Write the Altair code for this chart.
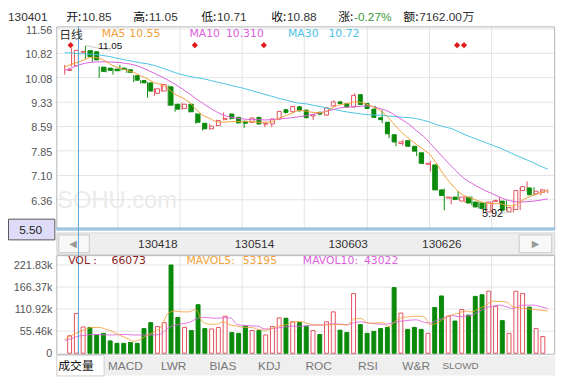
import altair as alt
import pandas as pd

# ---------------- data ----------------
opens = [10.30, 10.44, 10.85, 10.90, 10.87, 10.40, 10.37, 10.34, 10.37, 10.32,
         10.14, 9.99, 9.92, 9.60, 9.67, 9.80, 9.27, 9.14, 9.27, 8.97,
         8.69, 8.52, 8.62, 8.80, 8.97, 8.87, 8.75, 8.72, 8.87, 8.66,
         8.67, 8.82, 9.10, 9.04, 9.19, 9.09, 8.91, 9.02, 8.94, 9.22,
         9.34, 9.29, 9.19, 9.56, 9.29, 9.12, 8.86, 8.72, 8.34, 8.07,
         8.16, 7.99, 7.79, 7.44, 7.42, 6.66, 6.41, 6.44, 6.32, 6.44,
         6.29, 6.26, 5.99, 6.31, 6.32, 5.99, 6.06, 6.64, 6.72, 6.54,
         6.59]
highs = [10.47, 10.98, 11.05, 11.05, 10.92, 10.42, 10.40, 10.37, 10.47, 10.37,
         10.16, 10.00, 9.94, 9.76, 9.90, 9.84, 9.28, 9.32, 9.28, 9.00,
         8.70, 8.67, 8.80, 9.02, 8.99, 8.88, 8.77, 8.87, 8.88, 8.70,
         8.84, 9.06, 9.13, 9.22, 9.22, 9.10, 8.96, 9.05, 9.18, 9.39,
         9.36, 9.30, 9.60, 9.58, 9.31, 9.22, 9.09, 8.74, 8.36, 8.19,
         8.17, 8.00, 7.80, 7.54, 7.44, 6.70, 6.46, 6.62, 6.49, 6.46,
         6.31, 6.28, 6.32, 6.44, 6.34, 6.14, 6.74, 6.92, 6.74, 6.69,
         6.68]
lows = [10.17, 10.42, 10.71, 10.65, 10.56, 10.07, 10.24, 10.17, 10.27, 10.22,
        9.94, 9.90, 9.47, 9.52, 9.65, 9.22, 9.04, 9.10, 9.02, 8.67,
        8.47, 8.50, 8.60, 8.78, 8.80, 8.68, 8.55, 8.70, 8.65, 8.57,
        8.57, 8.80, 8.98, 9.02, 9.05, 8.84, 8.79, 8.94, 8.92, 9.20,
        9.27, 9.17, 9.17, 9.24, 9.12, 8.85, 8.69, 8.24, 7.99, 8.01,
        7.97, 7.69, 7.45, 7.22, 6.64, 6.04, 6.22, 6.35, 6.26, 6.19,
        6.09, 6.00, 5.92, 6.24, 6.02, 5.97, 6.04, 6.62, 6.49, 6.49,
        6.56]
closes = [10.33, 10.91, 10.88, 10.72, 10.62, 10.27, 10.30, 10.29, 10.33, 10.24,
          10.00, 9.92, 9.67, 9.74, 9.87, 9.24, 9.12, 9.27, 9.04, 8.72,
          8.52, 8.60, 8.77, 8.84, 8.84, 8.70, 8.69, 8.85, 8.67, 8.69,
          8.82, 9.05, 9.02, 9.20, 9.07, 8.86, 8.95, 8.97, 9.16, 9.34,
          9.29, 9.19, 9.54, 9.26, 9.14, 8.87, 8.80, 8.37, 8.12, 8.12,
          7.99, 7.84, 7.47, 7.47, 6.66, 6.49, 6.44, 6.37, 6.44, 6.26,
          6.14, 6.09, 6.29, 6.34, 6.04, 6.12, 6.64, 6.76, 6.51, 6.62,
          6.66]
ma5 = [10.40, 10.49, 10.55, 10.64, 10.70, 10.67, 10.57, 10.44, 10.37, 10.30,
       10.24, 10.14, 10.04, 9.92, 9.87, 9.74, 9.57, 9.47, 9.34, 9.12,
       8.94, 8.84, 8.74, 8.72, 8.74, 8.74, 8.74, 8.74, 8.72, 8.72,
       8.74, 8.84, 8.92, 9.00, 9.08, 9.06, 9.02, 9.01, 9.06, 9.18,
       9.26, 9.29, 9.34, 9.32, 9.25, 9.16, 9.04, 8.84, 8.59, 8.38,
       8.20, 8.04, 7.89, 7.72, 7.42, 7.10, 6.84, 6.62, 6.47, 6.40,
       6.32, 6.26, 6.24, 6.24, 6.19, 6.17, 6.30, 6.42, 6.50, 6.58,
       6.64]
ma10 = [10.30, 10.38, 10.46, 10.52, 10.55, 10.56, 10.56, 10.55, 10.54, 10.51,
        10.47, 10.40, 10.31, 10.21, 10.11, 10.00, 9.88, 9.74, 9.60, 9.44,
        9.30, 9.16, 9.04, 8.94, 8.88, 8.84, 8.82, 8.80, 8.80, 8.79,
        8.80, 8.82, 8.84, 8.86, 8.89, 8.92, 8.96, 9.01, 9.06, 9.11,
        9.16, 9.18, 9.19, 9.21, 9.22, 9.18, 9.12, 9.04, 8.92, 8.78,
        8.64, 8.46, 8.29, 8.07, 7.84, 7.61, 7.39, 7.18, 6.99, 6.86,
        6.74, 6.63, 6.54, 6.44, 6.36, 6.31, 6.29, 6.30, 6.32, 6.35,
        6.39]
ma30 = [10.84, 10.83, 10.81, 10.80, 10.79, 10.77, 10.74, 10.70, 10.65, 10.61,
        10.57, 10.53, 10.50, 10.45, 10.38, 10.31, 10.23, 10.17, 10.12, 10.08,
        10.05, 10.00, 9.95, 9.90, 9.85, 9.80, 9.75, 9.69, 9.63, 9.57,
        9.51, 9.45, 9.40, 9.34, 9.30, 9.28, 9.24, 9.20, 9.15, 9.11,
        9.07, 9.03, 9.00, 8.97, 8.95, 8.94, 8.93, 8.91, 8.89, 8.87,
        8.86, 8.83, 8.78, 8.72, 8.64, 8.58, 8.53, 8.44, 8.34, 8.26,
        8.18, 8.10, 8.02, 7.94, 7.85, 7.75, 7.66, 7.57, 7.48, 7.38,
        7.29]
volumes = [44000, 100000, 66073, 65000, 46000, 50000, 31000, 25000, 25000, 27000,
           25000, 62000, 77000, 67000, 77000, 221830, 90000, 65000, 57000, 122000,
           62000, 61000, 65000, 93000, 52000, 50000, 68000, 57000, 57000, 46000,
           67000, 89000, 88000, 79000, 77000, 68000, 57000, 47000, 79000, 104000,
           58000, 52000, 150000, 72000, 50000, 55000, 62000, 65000, 165000, 101000,
           60000, 65000, 60000, 50000, 115000, 144000, 93000, 81000, 110000, 96000,
           143000, 147000, 156000, 118000, 82000, 50000, 156000, 150000, 116000, 62000,
           42000]
mavol5 = [35000, 45000, 53195, 60000, 65000, 65000, 60000, 54000, 45000, 38000,
          30000, 35000, 46000, 54000, 67000, 101000, 106000, 104000, 104000, 110000,
          79000, 73000, 73000, 79000, 71000, 68000, 65000, 65000, 60000, 58000,
          62000, 68000, 71000, 78000, 80000, 76000, 72000, 71000, 71000, 72000,
          72000, 71000, 87000, 87000, 75000, 76000, 77000, 67000, 82000, 90000,
          92000, 93000, 92000, 72000, 76000, 88000, 96000, 100000, 106000, 104000,
          112000, 120000, 131000, 130000, 129000, 116000, 114000, 112000, 110000, 108000,
          106000]
mavol10 = [32000, 37000, 43022, 45000, 47000, 47000, 46000, 46000, 47000, 47000,
           46000, 46000, 46000, 46000, 49000, 64000, 70000, 74000, 77000, 86000,
           90000, 89000, 88000, 89000, 89000, 72000, 70000, 69000, 68000, 61000,
           62000, 64000, 66000, 68000, 68000, 69000, 71000, 71000, 73000, 74000,
           73000, 72000, 77000, 79000, 76000, 74000, 73000, 74000, 79000, 81000,
           83000, 84000, 78000, 76000, 83000, 89000, 95000, 92000, 93000, 96000,
           104000, 114000, 118000, 121000, 117000, 112000, 120000, 121000, 121000, 117000,
           112000]

price_ticks = [11.56, 10.82, 10.08, 9.33, 8.59, 7.85, 7.10, 6.36]
price_tick_text = ["11.56", "10.82", "10.08", "9.33", "8.59", "7.85", "7.10", "6.36"]
vol_ticks = [0, 55460, 110920, 166370, 221830]
vol_tick_text = ["0", "55.46k", "110.92k", "166.37k", "221.83k"]
nav_dates = ["130418", "130514", "130603", "130626"]
tab_names = ["成交量", "MACD", "LWR", "BIAS", "KDJ", "ROC", "RSI", "W&R", "SLOWD"]
event_idx = [1, 19, 29, 57, 58]
cursor_idx = 2
cursor_price = "5.50"
hi_idx, hi_text = 3, "11.05"
lo_idx, lo_text = 62, "5.92"

# ---------------- layout (pixels) ----------------
W, H = 568, 375
PL, PR = 49, 554          # plot left / right
PT, PB = 16, 221          # price panel
VT, VB = 248, 348         # volume panel
NAV_T, NAV_B = 225, 248
TAB_T, TAB_B = 350, 370
nav_x = [152, 250, 345, 440]
tab_x = [69, 119, 168, 218, 265, 315, 365, 414, 459]
grid_x = [round(48 + 63.125 * k) + 0.5 for k in range(1, 8)]
HDR_Y = 6.5
LEG_Y = 24

RED = "#e2515c"
GREEN = "#0a8a0a"
C_MA5 = "#f2a03a"
C_MA10 = "#dc5fdc"
C_MA30 = "#4cc3e6"
GRID = "#e4e4e4"
BORDER = "#b4b4b4"

xs = alt.Scale(domain=[0, 70], range=[57.5, 547.5], nice=False, zero=False)
ps = alt.Scale(domain=[6.36, 10.82], range=[191.8, 43.3], nice=False, zero=False)
vs = alt.Scale(domain=[0, 221830], range=[347.5, 258], nice=False, zero=False)

df = pd.DataFrame({
    "i": list(range(len(opens))), "o": opens, "h": highs, "l": lows, "c": closes,
    "v": volumes, "ma5": ma5, "ma10": ma10, "ma30": ma30,
    "mv5": mavol5, "mv10": mavol10,
})
df["up"] = df["c"] >= df["o"]
df["top"] = df[["o", "c"]].max(axis=1)
df["bot"] = df[["o", "c"]].min(axis=1)
df["v0"] = 0
up = df[df["up"]]
dn = df[~df["up"]]

dummy = pd.DataFrame({"k": [0]})
XI = alt.X("i:Q", scale=xs, axis=None)


def text(s, x, y, color="#333333", size=11, font="Liberation Sans", align="left"):
    return alt.Chart(dummy).mark_text(
        text=s, align=align, baseline="middle", font=font, fontSize=size, color=color
    ).encode(x=alt.value(x), y=alt.value(y))


def box(x1, y1, x2, y2, fill="#ffffff", stroke=None, fill_op=1.0):
    kw = dict(fill=fill, fillOpacity=fill_op)
    if stroke:
        kw["stroke"] = stroke
        kw["strokeWidth"] = 1
    return alt.Chart(dummy).mark_rect(**kw).encode(
        x=alt.value(x1), x2=alt.value(x2), y=alt.value(y1), y2=alt.value(y2))


def seg(x1, y1, x2, y2, color, sw=1):
    return alt.Chart(dummy).mark_rule(color=color, strokeWidth=sw).encode(
        x=alt.value(x1), x2=alt.value(x2), y=alt.value(y1), y2=alt.value(y2))


layers = []

# navigator bar and tab bar
layers += [
    box(PL + 0.5, NAV_T + 0.5, PR + 0.5, NAV_B - 0.5, "#eeeeee", "#d2d2d2"),
    box(PL + 2.5, NAV_T + 2.5, 82.5, NAV_B - 2.5, "#f8f8f8", "#c8c8c8"),
    box(518.5, NAV_T + 2.5, 551.5, NAV_B - 2.5, "#f8f8f8", "#c8c8c8"),
    text("◀", 66, 236.5, "#9a9a9a", 10, "DejaVu Sans", "center"),
    text("▶", 535, 236.5, "#9a9a9a", 10, "DejaVu Sans", "center"),
    box(PL, TAB_T, PR + 1, TAB_B, "#efefef"),
    box(PL + 0.5, TAB_T - 0.5, 97.5, TAB_B + 0.5, "#ffffff", "#cfcfcf"),
]
for s, x in zip(nav_dates, nav_x):
    layers.append(text(s, x, 236.5, "#333333", 12, "Liberation Sans", "center"))
for k, (s, x) in enumerate(zip(tab_names, tab_x)):
    if k == 0:
        layers.append(text(s, x, 360, "#111111", 12, "Noto Sans CJK SC", "center"))
    elif s == "SLOWD":
        layers.append(text(s, x, 360, "#777777", 10, "Liberation Sans", "center"))
    else:
        layers.append(text(s, x, 360, "#777777", 12, "Liberation Sans", "center"))

# grid lines
gdf = pd.DataFrame({"gx": grid_x})
for (t, b) in [(PT, PB), (VT, VB)]:
    layers.append(alt.Chart(gdf).mark_rule(color=GRID, strokeWidth=1).encode(
        x=alt.X("gx:Q", scale=None, axis=None), y=alt.value(t), y2=alt.value(b)))
pt_df = pd.DataFrame({"p": price_ticks, "t": price_tick_text})
layers.append(alt.Chart(pt_df).mark_rule(color=GRID, strokeWidth=1).encode(
    y=alt.Y("p:Q", scale=ps, axis=None), x=alt.value(PL), x2=alt.value(PR)))
vt_df = pd.DataFrame({"v": vol_ticks, "t": vol_tick_text})
layers.append(alt.Chart(vt_df[vt_df["v"] > 0]).mark_rule(color=GRID, strokeWidth=1).encode(
    y=alt.Y("v:Q", scale=vs, axis=None), x=alt.value(PL), x2=alt.value(PR)))

# watermark
layers.append(text("SOHU.com", 50, 193, "#ebebeb", 24, "Liberation Sans", "left"))

# panel borders
layers.append(box(PL + 0.5, PT + 0.5, PR + 0.5, PB + 0.5, "#ffffff", BORDER, 0))
layers.append(box(PL + 0.5, VT + 0.5, PR + 0.5, VB + 0.5, "#ffffff", BORDER, 0))

# axis labels
layers.append(alt.Chart(pt_df).mark_text(align="right", baseline="middle", dy=2,
                                         font="Liberation Sans", fontSize=11, color="#555555").encode(
    y=alt.Y("p:Q", scale=ps, axis=None), x=alt.value(45), text="t:N"))
layers.append(alt.Chart(vt_df).mark_text(align="right", baseline="middle", dy=1,
                                         font="Liberation Sans", fontSize=11, color="#555555").encode(
    y=alt.Y("v:Q", scale=vs, axis=None), x=alt.value(45), text="t:N"))

# candles: wicks then bodies
for part, col in [(up, RED), (dn, GREEN)]:
    layers.append(alt.Chart(part).mark_rule(color=col, strokeWidth=1).encode(
        x=XI, y=alt.Y("l:Q", scale=ps, axis=None), y2="h:Q"))
layers.append(alt.Chart(up).mark_bar(size=4, fill="#ffffff", stroke=RED, strokeWidth=1,
                                     orient="vertical").encode(
    x=XI, y=alt.Y("bot:Q", scale=ps, axis=None), y2="top:Q"))
layers.append(alt.Chart(dn).mark_bar(size=4, fill=GREEN, stroke=GREEN, strokeWidth=1,
                                     orient="vertical").encode(
    x=XI, y=alt.Y("bot:Q", scale=ps, axis=None), y2="top:Q"))

# moving averages
for fld, col in [("ma30", C_MA30), ("ma10", C_MA10), ("ma5", C_MA5)]:
    layers.append(alt.Chart(df).mark_line(color=col, strokeWidth=1, interpolate="monotone").encode(
        x=XI, y=alt.Y(f"{fld}:Q", scale=ps, axis=None)))

# volume bars
layers.append(alt.Chart(up).mark_bar(size=4, fill="#ffffff", stroke=RED, strokeWidth=1,
                                     orient="vertical").encode(
    x=XI, y=alt.Y("v:Q", scale=vs, axis=None), y2="v0:Q"))
layers.append(alt.Chart(dn).mark_bar(size=4, fill=GREEN, stroke=GREEN, strokeWidth=1,
                                     orient="vertical").encode(
    x=XI, y=alt.Y("v:Q", scale=vs, axis=None), y2="v0:Q"))
for fld, col in [("mv10", C_MA10), ("mv5", C_MA5)]:
    layers.append(alt.Chart(df).mark_line(color=col, strokeWidth=1, opacity=0.85,
                                          interpolate="monotone").encode(
        x=XI, y=alt.Y(f"{fld}:Q", scale=vs, axis=None)))

# event markers
ev = pd.DataFrame({"i": event_idx})
layers.append(alt.Chart(ev).mark_point(shape="diamond", filled=True, color="#e01b1b",
                                       size=40, opacity=1, xOffset=-1).encode(
    x=XI, y=alt.value(35)))

# high / low annotations
hi_df = df[df["i"] == hi_idx]
lo_df = df[df["i"] == lo_idx]
layers.append(seg(79, 35.5, 104, 40.5, "#c8c8c8"))
layers.append(alt.Chart(hi_df).mark_text(text=hi_text, align="left", baseline="middle", dx=13, dy=0,
                                         font="Liberation Sans", fontSize=10, color="#111111").encode(
    x=XI, y=alt.Y("h:Q", scale=ps, axis=None)))
layers.append(seg(500, 205.5, 511, 204.5, "#c8c8c8"))
layers.append(alt.Chart(lo_df).mark_text(text=lo_text, align="center", baseline="middle", dy=0,
                                         font="Liberation Sans", fontSize=11, color="#111111").encode(
    x=XI, y=alt.Y("l:Q", scale=ps, axis=None)))

# cursor cross
cur = df[df["i"] == cursor_idx]
layers.append(alt.Chart(cur).mark_rule(color="#5aa9d6", strokeWidth=1).encode(
    x=XI, y=alt.value(PT), y2=alt.value(VB)))
layers.append(seg(PL, 220.5, PR + 1, 220.5, "#6ab4dc"))
layers.append(seg(PL, 222.5, PR + 1, 222.5, "#6ab4dc"))
layers.append(box(0.5, 211.5, 47.5, 232.5, "#dedcf8", "#555555"))
layers.append(text(cursor_price, 23, 222.5, "#222222", 12, "Liberation Sans", "center"))

# price legend
layers += [
    text("日线", 52, LEG_Y + 1, "#333333", 12, "Noto Sans CJK SC"),
    text("MA5", 95, LEG_Y, C_MA5, 11, "DejaVu Sans"),
    text("10.55", 123, LEG_Y, C_MA5, 11, "DejaVu Sans"),
    text("MA10", 184, LEG_Y, C_MA10, 11, "DejaVu Sans"),
    text("10.310", 221, LEG_Y, C_MA10, 11, "DejaVu Sans"),
    text("MA30", 284, LEG_Y, C_MA30, 11, "DejaVu Sans"),
    text("10.72", 325, LEG_Y, C_MA30, 11, "DejaVu Sans"),
]
# volume legend
layers += [
    text("VOL :", 61, 254, "#8b1c1c", 11, "DejaVu Sans"),
    text("66073", 105, 254, "#8b1c1c", 11, "DejaVu Sans"),
    text("MAVOL5:", 181, 254, C_MA5, 11, "DejaVu Sans"),
    text("53195", 238, 254, C_MA5, 11, "DejaVu Sans"),
    text("MAVOL10:", 299, 254, C_MA10, 11, "DejaVu Sans"),
    text("43022", 361, 254, C_MA10, 11, "DejaVu Sans"),
]
# header
hdr = [
    ("130401", 0, "#333333", "Liberation Sans"),
    ("开:", 59, "#111111", "Noto Sans CJK SC"), ("10.85", 75, "#333333", "Liberation Sans"),
    ("高:", 127, "#111111", "Noto Sans CJK SC"), ("11.05", 143, "#333333", "Liberation Sans"),
    ("低:", 196, "#111111", "Noto Sans CJK SC"), ("10.71", 212, "#333333", "Liberation Sans"),
    ("收:", 267, "#111111", "Noto Sans CJK SC"), ("10.88", 283, "#333333", "Liberation Sans"),
    ("涨:", 335, "#111111", "Noto Sans CJK SC"), ("-0.27%", 351, "#3b9a3b", "Liberation Sans"),
    ("额:", 401, "#111111", "Noto Sans CJK SC"), ("7162.00", 417, "#333333", "Liberation Sans"),
    ("万", 461, "#333333", "Noto Sans CJK SC"),
]
for s, x, col, fnt in hdr:
    layers.append(text(s, x, HDR_Y, col, 12, fnt))

chart = alt.layer(*layers).resolve_scale(
    x="independent", y="independent"
).properties(
    width=W, height=H, padding=0, autosize=alt.AutoSizeParams(type="none")
).configure_view(strokeWidth=0)

chart.save("out.html", embed_options={"renderer": "svg", "actions": False})
